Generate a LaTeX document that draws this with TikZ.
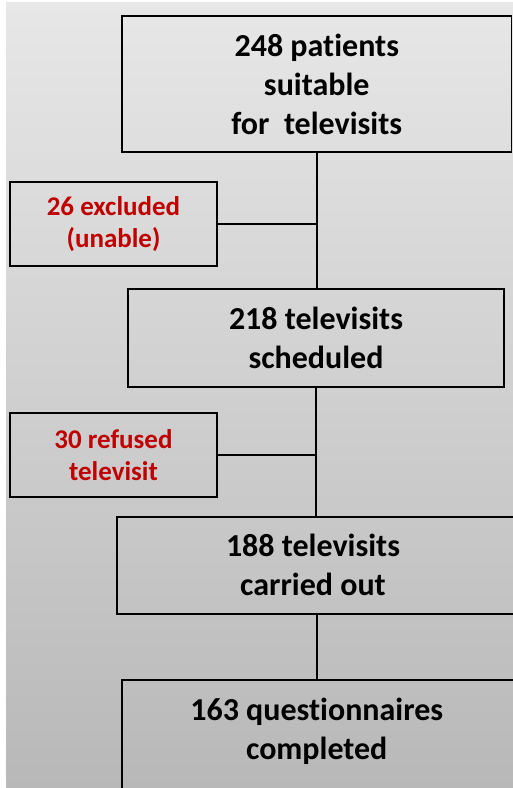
\documentclass[tikz,border=0pt]{standalone}
\usepackage{fontspec}
\setmainfont{Carlito}[Ligatures=NoCommon]
\definecolor{bgtop}{RGB}{231,231,231}
\definecolor{bgmid}{RGB}{210,209,209}
\definecolor{bgbot}{RGB}{184,184,184}
\definecolor{exred}{RGB}{192,0,0}
\tikzset{
  box/.style={draw=black, line width=1.9pt, inner sep=0pt, rectangle, align=center,
    font=\fontsize{32}{39}\selectfont\bfseries},
  redbox/.style={box, text=exred, font=\fontsize{27}{32}\selectfont\bfseries},
  txt/.style={inner sep=0pt, align=center, font=\fontsize{32}{39}\selectfont\bfseries},
  link/.style={draw=black, line width=1.6pt}
}
\begin{document}
\begin{tikzpicture}[x=1pt,y=-1pt]
\useasboundingbox (0,0) rectangle (513,788);
\clip (0,0) rectangle (513,788);
\fill[white] (0,0) rectangle (513,788);
\shade[top color=bgtop, middle color=bgmid, bottom color=bgbot] (6,2) rectangle (513,788);

\node[box, minimum width=389.5pt, minimum height=136pt] (b1) at (316.75,84)
  {248 patients\\ suitable\\ for~ televisits};
\node[redbox, minimum width=207pt, minimum height=84pt] (r1) at (113.5,224)
  {26 excluded\\ (unable)};
\node[box, minimum width=376pt, minimum height=97.4pt] (b2) at (316,338)
  {218 televisits\\ scheduled};
\node[redbox, minimum width=207pt, minimum height=84pt] (r2) at (113.5,455)
  {30 refused\\ televisit};
\node[box, minimum width=408pt, minimum height=97.3pt] (b3) at (321,565.35) {};
\node[txt] (t3) at (313,565) {188 televisits\\ carried out};
\node[box, minimum width=408pt, minimum height=120pt] (b4) at (326,740) {};
\node[txt] (t4) at (316.7,731) {163 questionnaires\\ completed};

\draw[link] (b1.south) -- (b1.south |- b2.north);
\draw[link] (r1.east) -- (r1.east -| b1.south);
\draw[link] (b2.south) -- (b2.south |- b3.north);
\draw[link] (r2.east) -- (r2.east -| b2.south);
\draw[link] (316.7,0 |- b3.south) coordinate (c3) -- (c3 |- b4.north);
\end{tikzpicture}
\end{document}
